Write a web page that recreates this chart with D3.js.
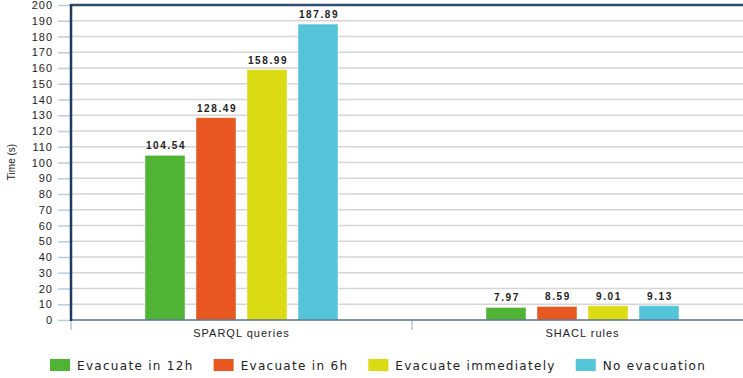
<!DOCTYPE html>
<html>
<head>
<meta charset="utf-8">
<script src="https://cdn.jsdelivr.net/npm/d3@7"></script>
<style>
  html, body { margin: 0; padding: 0; background: #ffffff; }
  svg { display: block; }
</style>
</head>
<body>
<svg id="chart" width="743" height="378"></svg>
<script>
// Query method groups along the x axis
const categories = ["SPARQL queries", "SHACL rules"];
// Evacuation scenarios (one bar per scenario in each group)
const seriesNames = ["Evacuate in 12h", "Evacuate in 6h", "Evacuate immediately", "No evacuation"];
const seriesColors = ["#4fb334", "#e95720", "#dadb12", "#54c4d9"];
// Execution time in seconds, [SPARQL, SHACL] per scenario
const evacuate12h = [104.54, 7.97];
const evacuate6h = [128.49, 8.59];
const evacuateNow = [158.99, 9.01];
const noEvacuation = [187.89, 9.13];
// Y axis ticks
const yTicks = d3.range(0, 201, 10);

const seriesValues = [evacuate12h, evacuate6h, evacuateNow, noEvacuation];

const svg = d3.select("#chart");
const plot = { left: 71, right: 753, top: 5, bottom: 320 };

const y = d3.scaleLinear().domain([0, 200]).range([plot.bottom, plot.top]);
const x0 = d3.scaleBand().domain(categories).range([plot.left, plot.right]).padding(0);
const groupW = x0.bandwidth();
const x1 = d3.scaleBand().domain(seriesNames)
  .range([74, groupW - 74]).paddingInner(11 / 51).paddingOuter(0);

// horizontal gridlines
svg.append("g").selectAll("line").data(yTicks.filter(d => d > 0)).join("line")
  .attr("x1", plot.left).attr("x2", 743)
  .attr("y1", d => y(d)).attr("y2", d => y(d))
  .attr("stroke", "#d5d5d5").attr("stroke-width", 1.5);

// y axis ticks and labels
const yAxis = d3.axisLeft(y).tickValues(yTicks).tickSize(13).tickPadding(6);
const yg = svg.append("g").attr("transform", `translate(${plot.left},0)`).call(yAxis);
yg.select(".domain").remove();
yg.selectAll(".tick line").attr("stroke", "#b9cde0").attr("stroke-width", 1.5);
yg.selectAll(".tick text")
  .attr("font-family", "'Liberation Sans', Arial, sans-serif")
  .attr("font-size", 11).attr("fill", "#222")
  .style("letter-spacing", "1px")
  .attr("dx", "1px");

// bars
const groups = svg.append("g").selectAll("g").data(categories).join("g")
  .attr("transform", d => `translate(${x0(d)},0)`);

groups.each(function (cat, ci) {
  const g = d3.select(this);
  seriesNames.forEach((s, si) => {
    const v = seriesValues[si][ci];
    g.append("rect")
      .attr("x", x1(s)).attr("width", x1.bandwidth())
      .attr("y", y(v)).attr("height", y(0) - y(v))
      .attr("fill", seriesColors[si])
      .attr("stroke", "rgba(255,255,255,0.45)").attr("stroke-width", 1);
    g.append("text")
      .attr("x", x1(s) + x1.bandwidth() / 2 + 1)
      .attr("y", y(v) - 6)
      .attr("text-anchor", "middle")
      .attr("font-family", "'Liberation Sans', Arial, sans-serif")
      .attr("font-size", 10).attr("font-weight", "bold").attr("fill", "#222")
      .style("letter-spacing", "1.6px")
      .text(v.toFixed(2));
  });
});

// x axis: category ticks and labels
const xTicks = [plot.left, x0(categories[1]), plot.right];
svg.append("g").selectAll("line").data(xTicks).join("line")
  .attr("x1", d => d).attr("x2", d => d)
  .attr("y1", plot.bottom).attr("y2", plot.bottom + 10)
  .attr("stroke", "#b3c5d8").attr("stroke-width", 1.5);

svg.append("g").selectAll("text").data(categories).join("text")
  .attr("x", d => x0(d) + groupW / 2)
  .attr("y", 337)
  .attr("text-anchor", "middle")
  .attr("font-family", "'Liberation Sans', Arial, sans-serif")
  .attr("font-size", 11).attr("fill", "#222")
  .style("letter-spacing", "1px")
  .text(d => d);

// frame: bottom axis, left axis, top border
svg.append("line").attr("x1", plot.left).attr("x2", 743)
  .attr("y1", plot.bottom).attr("y2", plot.bottom)
  .attr("stroke", "#56718f").attr("stroke-width", 1.5);
svg.append("line").attr("x1", plot.left).attr("x2", 743)
  .attr("y1", plot.top).attr("y2", plot.top)
  .attr("stroke", "#2f4d70").attr("stroke-width", 2.5);
svg.append("line").attr("x1", plot.left).attr("x2", plot.left)
  .attr("y1", plot.top - 1).attr("y2", plot.bottom + 1)
  .attr("stroke", "#1f3b5d").attr("stroke-width", 2.5);

// y axis title
svg.append("text")
  .attr("transform", "translate(15,162) rotate(-90)")
  .attr("text-anchor", "middle")
  .attr("font-family", "'Liberation Sans', Arial, sans-serif")
  .attr("font-size", 10).attr("fill", "#222")
  .text("Time (s)");

// legend
const legend = svg.append("g");
let lx = 50;
seriesNames.forEach((s, i) => {
  legend.append("rect").attr("x", lx).attr("y", 359).attr("width", 20).attr("height", 12)
    .attr("fill", seriesColors[i]);
  const t = legend.append("text").attr("x", lx + 27).attr("y", 370)
    .attr("font-family", "'DejaVu Sans', Verdana, sans-serif")
    .attr("font-size", 12).attr("fill", "#222")
    .style("letter-spacing", "1.3px")
    .text(s);
  lx += 27 + t.node().getComputedTextLength() + 20;
});
</script>
</body>
</html>
